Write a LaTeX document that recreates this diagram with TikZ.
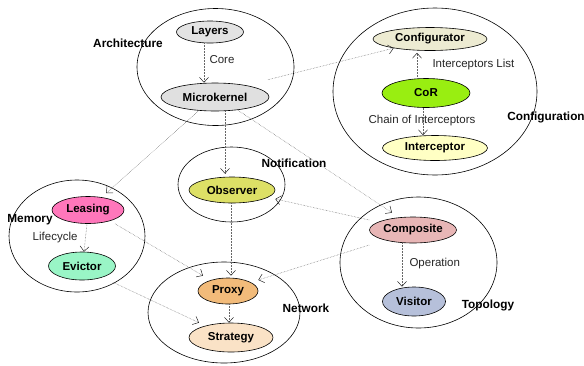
\documentclass[tikz,border=0pt]{standalone}
\usepackage{fontspec}
\setmainfont{Liberation Sans}
\usetikzlibrary{shapes.geometric,arrows.meta}

\definecolor{layersc}{HTML}{E3E3E3}
\definecolor{kernelc}{HTML}{E0E0E0}
\definecolor{configc}{HTML}{EDEBD2}
\definecolor{corc}{HTML}{99EE11}
\definecolor{interc}{HTML}{FFFFC4}
\definecolor{observc}{HTML}{DDE066}
\definecolor{leasec}{HTML}{FF77BB}
\definecolor{evictc}{HTML}{99F5C6}
\definecolor{proxyc}{HTML}{F2BB7A}
\definecolor{stratc}{HTML}{FAE2C6}
\definecolor{compc}{HTML}{E8B6B6}
\definecolor{visitc}{HTML}{B6C0DA}

\begin{document}
\begin{tikzpicture}[x=1pt,y=-1pt]
  \tikzset{
    region/.style args={#1/#2}{ellipse,draw,line width=0.6pt,minimum width=#1,minimum height=#2,inner sep=0pt},
    pattern/.style args={#1/#2/#3}{ellipse,draw,line width=0.6pt,fill=#1,minimum width=#2,minimum height=#3,inner sep=0pt,
      font=\fontsize{11.5}{13}\selectfont\bfseries},
    group/.style={font=\fontsize{11.8}{13}\selectfont\bfseries},
    role/.style={font=\fontsize{11.5}{13}\selectfont,text=black!85},
    dep/.style={densely dotted,black!60,line width=0.5pt,-{Straight Barb[length=5pt,width=9pt,color=black!85]}},
  }
  \useasboundingbox (0,0) rectangle (584,365);

  %GROUPS
  \node[region={157pt/117pt}] (arch) at (215.5,67) {};
  \node[region={204pt/167pt}] (config) at (435,91.5) {};
  \node[region={107pt/75pt}] (notif) at (231.5,184.5) {};
  \node[region={136pt/112pt}] (memory) at (77,236) {};
  \node[region={152pt/101pt}] (network) at (224,312.5) {};
  \node[region={157pt/131pt}] (topo) at (418.5,262.5) {};

  \node[group] (archlabel) at (128,43) {Architecture};
  \node[group] (configlabel) at (546,117) {Configuration};
  \node[group] (notiflabel) at (294,163) {Notification};
  \node[group] (memorylabel) at (30,220) {Memory};
  \node[group] (networklabel) at (306,308) {Network};
  \node[group] (topolabel) at (488,305) {Topology};

  %PATTERNS
  \node[pattern={layersc/67pt/22pt}] (Layers) at (210,32) {Layers};
  \node[pattern={kernelc/108pt/28pt}] (Microkernel) at (215,97) {Microkernel};
  \node[pattern={configc/114pt/23pt}] (Configurator) at (430,39) {Configurator};
  \node[pattern={corc/88pt/29pt}] (CoR) at (426,93) {CoR};
  \node[pattern={interc/105pt/25pt}] (Interceptor) at (435,148) {Interceptor};
  \node[pattern={observc/86pt/26pt}] (Observer) at (232,190) {Observer};
  \node[pattern={leasec/72pt/27pt}] (Leasing) at (88,210) {Leasing};
  \node[pattern={evictc/67pt/28pt}] (Evictor) at (82,266) {Evictor};
  \node[pattern={proxyc/60pt/26pt}] (Proxy) at (228,291) {Proxy};
  \node[pattern={stratc/84pt/29pt}] (Strategy) at (231,337.5) {Strategy};
  \node[pattern={compc/87pt/26pt}] (Composite) at (413,230) {Composite};
  \node[pattern={visitc/63pt/29pt}] (Visitor) at (414,301.5) {Visitor};

  %DEPENDENCIES
  \draw[dep] ([xshift=-6pt]Layers.south) -- ([xshift=-11pt]Microkernel.north);
  \node[role,anchor=west] (core) at (206,60) {Core};
  \draw[dep] ([xshift=-9pt]CoR.north) -- ([xshift=-13pt,yshift=-2pt]Configurator.south);
  \node[role,anchor=west] (list) at (429,65) {Interceptors List};
  \draw[dep] ([xshift=-3pt]CoR.south) -- ([xshift=-12pt]Interceptor.north);
  \node[role] (chain) at (422,121) {Chain of Interceptors};
  \draw[dep] ([xshift=-1pt]Leasing.south) -- ([xshift=2pt]Evictor.north);
  \node[role,anchor=east] (life) at (81,238) {Lifecycle};
  \draw[dep] ([xshift=-11pt]Composite.south) -- ([xshift=-12pt]Visitor.north);
  \node[role,anchor=west] (oper) at (406,264) {Operation};

  \draw[dep] ([xshift=53pt,yshift=3pt]Microkernel.north) -- (Configurator);
  \draw[dep] ([xshift=-17pt]Microkernel.south) -- ([xshift=18pt,yshift=3pt]Leasing.north);
  \draw[dep] ([xshift=10pt]Microkernel.south) -- ([xshift=-7pt,yshift=3pt]Observer.north);
  \draw[dep] ([xshift=23pt,yshift=1pt]Microkernel.south) -- ([xshift=-21pt,yshift=4pt]Composite.north);
  \draw[dep] ([xshift=27pt]Leasing.south) -- ([xshift=-25pt,yshift=2pt]Proxy.north);
  \draw[dep] ([xshift=31pt,yshift=-2pt]Evictor.south) -- ([xshift=-32pt]Strategy.north);
  \draw[dep] ([xshift=-1pt]Observer.south) -- ([xshift=3pt,yshift=2pt]Proxy.north);
  \draw[dep] ([xshift=1pt]Proxy.south) -- ([xshift=-2pt]Strategy.north);
  \draw[dep] ([yshift=10pt]Composite.west) -- ([yshift=-9pt]Observer.east);
  \draw[dep] ([yshift=-15pt]Composite.west) -- ([yshift=11pt]Proxy.east);
\end{tikzpicture}
\end{document}
